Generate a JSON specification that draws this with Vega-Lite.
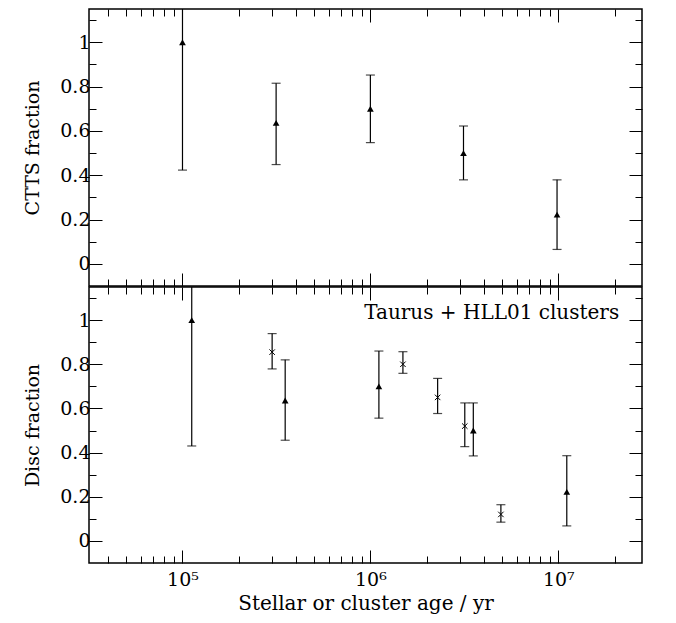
{
  "$schema": "https://vega.github.io/schema/vega-lite/v6.json",
  "padding": {"left": 23, "top": 7, "right": 5, "bottom": 5},
  "background": "white",
  "datasets": {
    "ctts": [
      {"age": 100000, "frac": 1.0, "lo": 0.423, "hi": 1.4},
      {"age": 315000, "frac": 0.636, "lo": 0.448, "hi": 0.815},
      {"age": 1000000, "frac": 0.70, "lo": 0.547, "hi": 0.852},
      {"age": 3130000, "frac": 0.50, "lo": 0.379, "hi": 0.622},
      {"age": 9850000, "frac": 0.222, "lo": 0.065, "hi": 0.379}
    ],
    "disc": [
      {"age": 112000, "frac": 1.0, "lo": 0.43, "hi": 1.4, "kind": "tri"},
      {"age": 352000, "frac": 0.636, "lo": 0.456, "hi": 0.82, "kind": "tri"},
      {"age": 1110000, "frac": 0.70, "lo": 0.556, "hi": 0.86, "kind": "tri"},
      {"age": 3530000, "frac": 0.50, "lo": 0.385, "hi": 0.625, "kind": "tri"},
      {"age": 11100000, "frac": 0.222, "lo": 0.068, "hi": 0.386, "kind": "tri"},
      {"age": 300000, "frac": 0.855, "lo": 0.779, "hi": 0.939, "kind": "cross"},
      {"age": 1490000, "frac": 0.80, "lo": 0.759, "hi": 0.857, "kind": "cross"},
      {"age": 2280000, "frac": 0.65, "lo": 0.577, "hi": 0.736, "kind": "cross"},
      {"age": 3180000, "frac": 0.52, "lo": 0.427, "hi": 0.625, "kind": "cross"},
      {"age": 4950000, "frac": 0.12, "lo": 0.085, "hi": 0.164, "kind": "cross"}
    ]
  },
  "config": {
    "view": {"stroke": "black", "strokeWidth": 1.5},
    "font": "DejaVu Serif",
    "axis": {
      "domain": false,
      "grid": false,
      "tickColor": "black",
      "tickWidth": 1,
      "labelColor": "black",
      "titleColor": "black",
      "labelFont": "DejaVu Serif",
      "titleFont": "DejaVu Serif",
      "labelFontSize": 19,
      "titleFontSize": 19,
      "titleFontWeight": "normal"
    }
  },
  "bounds": "flush",
  "spacing": 1,
  "vconcat": [
    {
      "width": 553,
      "height": 277,
      "data": {"name": "ctts"},
      "resolve": {"axis": {"x": "independent", "y": "independent"}},
      "layer": [
        {
          "mark": {"type": "rule", "clip": true, "color": "black", "strokeWidth": 1.2},
          "encoding": {
            "x": {"field": "age", "type": "quantitative",
              "scale": {"type": "log", "domain": [31800, 27900000], "nice": false},
              "axis": {"orient": "bottom", "values": [100000, 1000000, 10000000], "tickSize": -13, "labels": false, "title": null}},
            "y": {"field": "lo", "type": "quantitative",
              "scale": {"domain": [-0.1, 1.15], "nice": false, "zero": false},
              "axis": {"orient": "left", "values": [0, 0.2, 0.4, 0.6, 0.8, 1], "format": "~g", "tickSize": -13, "labelPadding": 12, "title": "CTTS fraction", "titlePadding": 17}},
            "y2": {"field": "hi"}
          }
        },
        {
          "mark": {"type": "tick", "orient": "horizontal", "size": 9, "thickness": 1.2, "color": "black", "clip": true},
          "encoding": {
            "x": {"field": "age", "type": "quantitative",
              "scale": {"type": "log", "domain": [31800, 27900000], "nice": false},
              "axis": {"orient": "bottom", "values": [40000, 50000, 60000, 70000, 80000, 90000, 200000, 300000, 400000, 500000, 600000, 700000, 800000, 900000, 2000000, 3000000, 4000000, 5000000, 6000000, 7000000, 8000000, 9000000, 20000000], "tickSize": -7, "labels": false, "title": null}},
            "y": {"field": "lo", "type": "quantitative",
              "scale": {"domain": [-0.1, 1.15], "nice": false, "zero": false},
              "axis": {"orient": "left", "values": [0.1, 0.3, 0.5, 0.7, 0.9, 1.1], "tickSize": -7, "labels": false, "title": null}}
          }
        },
        {
          "mark": {"type": "tick", "orient": "horizontal", "size": 9, "thickness": 1.2, "color": "black", "clip": true},
          "encoding": {
            "x": {"field": "age", "type": "quantitative",
              "scale": {"type": "log", "domain": [31800, 27900000], "nice": false},
              "axis": {"orient": "top", "values": [100000, 1000000, 10000000], "tickSize": -13, "labels": false, "title": null}},
            "y": {"field": "hi", "type": "quantitative",
              "scale": {"domain": [-0.1, 1.15], "nice": false, "zero": false},
              "axis": {"orient": "right", "values": [0, 0.2, 0.4, 0.6, 0.8, 1], "tickSize": -13, "labels": false, "title": null}}
          }
        },
        {
          "mark": {"type": "point", "shape": "triangle-up", "filled": true, "size": 45, "color": "black", "opacity": 1, "clip": true},
          "encoding": {
            "x": {"field": "age", "type": "quantitative",
              "scale": {"type": "log", "domain": [31800, 27900000], "nice": false},
              "axis": {"orient": "top", "values": [40000, 50000, 60000, 70000, 80000, 90000, 200000, 300000, 400000, 500000, 600000, 700000, 800000, 900000, 2000000, 3000000, 4000000, 5000000, 6000000, 7000000, 8000000, 9000000, 20000000], "tickSize": -7, "labels": false, "title": null}},
            "y": {"field": "frac", "type": "quantitative",
              "scale": {"domain": [-0.1, 1.15], "nice": false, "zero": false},
              "axis": {"orient": "right", "values": [0.1, 0.3, 0.5, 0.7, 0.9, 1.1], "tickSize": -7, "labels": false, "title": null}}
          }
        }
      ]
    },
    {
      "width": 553,
      "height": 276,
      "data": {"name": "disc"},
      "resolve": {"axis": {"x": "independent", "y": "independent"}},
      "layer": [
        {
          "mark": {"type": "rule", "clip": true, "color": "black", "strokeWidth": 1.2},
          "encoding": {
            "x": {"field": "age", "type": "quantitative",
              "scale": {"type": "log", "domain": [31800, 27900000], "nice": false},
              "axis": {"orient": "bottom", "values": [100000, 1000000, 10000000], "tickSize": -13, "labelPadding": 20,
                "labelExpr": "datum.value == 100000 ? '10⁵' : datum.value == 1000000 ? '10⁶' : '10⁷'",
                "title": "Stellar or cluster age / yr", "titleFontSize": 20, "titlePadding": 4}},
            "y": {"field": "lo", "type": "quantitative",
              "scale": {"domain": [-0.1, 1.15], "nice": false, "zero": false},
              "axis": {"orient": "left", "values": [0, 0.2, 0.4, 0.6, 0.8, 1], "format": "~g", "tickSize": -13, "labelPadding": 12, "title": "Disc fraction", "titlePadding": 17}},
            "y2": {"field": "hi"}
          }
        },
        {
          "mark": {"type": "tick", "orient": "horizontal", "size": 9, "thickness": 1.2, "color": "black", "clip": true},
          "encoding": {
            "x": {"field": "age", "type": "quantitative",
              "scale": {"type": "log", "domain": [31800, 27900000], "nice": false},
              "axis": {"orient": "bottom", "values": [40000, 50000, 60000, 70000, 80000, 90000, 200000, 300000, 400000, 500000, 600000, 700000, 800000, 900000, 2000000, 3000000, 4000000, 5000000, 6000000, 7000000, 8000000, 9000000, 20000000], "tickSize": -7, "labels": false, "title": null}},
            "y": {"field": "lo", "type": "quantitative",
              "scale": {"domain": [-0.1, 1.15], "nice": false, "zero": false},
              "axis": {"orient": "left", "values": [0.1, 0.3, 0.5, 0.7, 0.9, 1.1], "tickSize": -7, "labels": false, "title": null}}
          }
        },
        {
          "mark": {"type": "tick", "orient": "horizontal", "size": 9, "thickness": 1.2, "color": "black", "clip": true},
          "encoding": {
            "x": {"field": "age", "type": "quantitative",
              "scale": {"type": "log", "domain": [31800, 27900000], "nice": false},
              "axis": {"orient": "top", "values": [100000, 1000000, 10000000], "tickSize": -13, "labels": false, "title": null}},
            "y": {"field": "hi", "type": "quantitative",
              "scale": {"domain": [-0.1, 1.15], "nice": false, "zero": false},
              "axis": {"orient": "right", "values": [0, 0.2, 0.4, 0.6, 0.8, 1], "tickSize": -13, "labels": false, "title": null}}
          }
        },
        {
          "transform": [{"filter": "datum.kind == 'tri'"}],
          "mark": {"type": "point", "shape": "triangle-up", "filled": true, "size": 45, "color": "black", "opacity": 1, "clip": true},
          "encoding": {
            "x": {"field": "age", "type": "quantitative",
              "scale": {"type": "log", "domain": [31800, 27900000], "nice": false},
              "axis": {"orient": "top", "values": [40000, 50000, 60000, 70000, 80000, 90000, 200000, 300000, 400000, 500000, 600000, 700000, 800000, 900000, 2000000, 3000000, 4000000, 5000000, 6000000, 7000000, 8000000, 9000000, 20000000], "tickSize": -7, "labels": false, "title": null}},
            "y": {"field": "frac", "type": "quantitative",
              "scale": {"domain": [-0.1, 1.15], "nice": false, "zero": false},
              "axis": {"orient": "right", "values": [0.1, 0.3, 0.5, 0.7, 0.9, 1.1], "tickSize": -7, "labels": false, "title": null}}
          }
        },
        {
          "transform": [{"filter": "datum.kind == 'cross'"}],
          "mark": {"type": "point", "shape": "M-1,-1L1,1M1,-1L-1,1", "filled": false, "size": 30, "strokeWidth": 1, "color": "black", "opacity": 1, "clip": true},
          "encoding": {
            "x": {"field": "age", "type": "quantitative", "scale": {"type": "log", "domain": [31800, 27900000], "nice": false}, "axis": null},
            "y": {"field": "frac", "type": "quantitative", "scale": {"domain": [-0.1, 1.15], "nice": false, "zero": false}, "axis": null}
          }
        },
        {
          "data": {"values": [{"label": "Taurus + HLL01 clusters"}]},
          "mark": {"type": "text", "align": "right", "baseline": "middle", "font": "DejaVu Serif", "fontSize": 20, "color": "black"},
          "encoding": {
            "text": {"field": "label"},
            "x": {"datum": 21100000, "type": "quantitative", "scale": {"type": "log", "domain": [31800, 27900000], "nice": false}, "axis": null},
            "y": {"datum": 1.031, "type": "quantitative", "scale": {"domain": [-0.1, 1.15], "nice": false, "zero": false}, "axis": null}
          }
        }
      ]
    }
  ]
}
